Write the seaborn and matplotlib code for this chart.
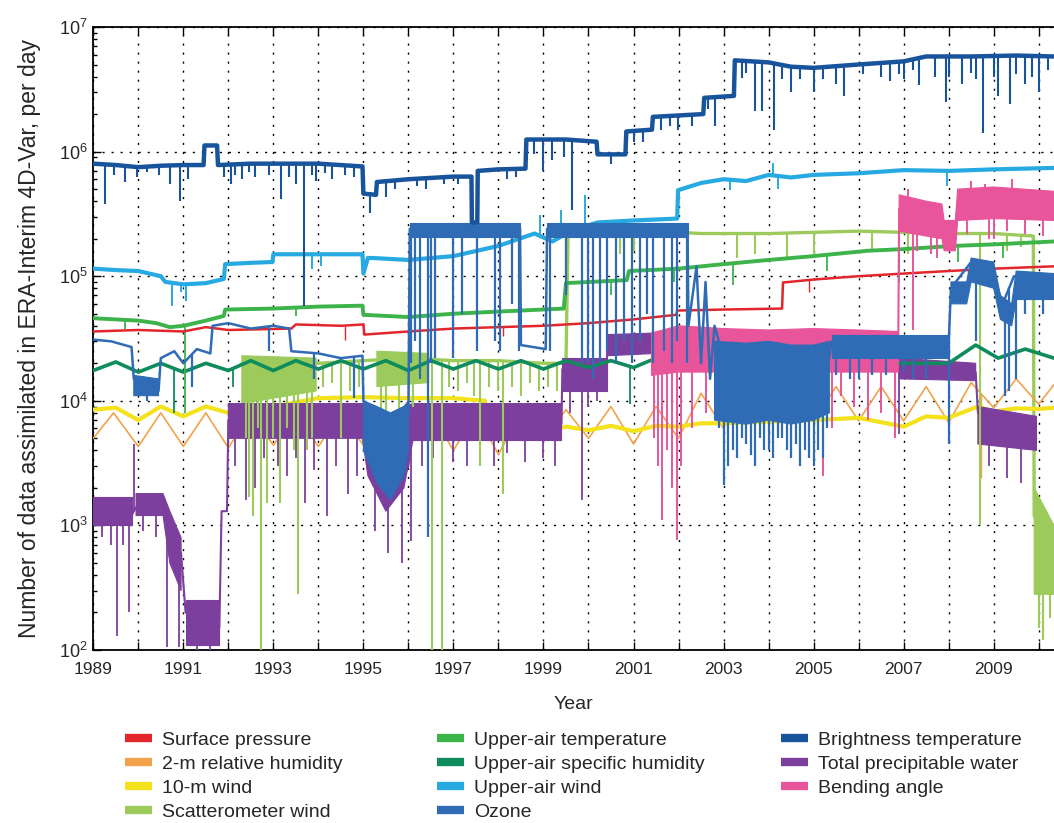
import numpy as np
import matplotlib
matplotlib.use("Agg")
import matplotlib.pyplot as plt
from matplotlib.lines import Line2D
from matplotlib.ticker import FixedLocator, LogLocator, NullFormatter, FuncFormatter
import seaborn as sns

nan = np.nan

# ---- Surface pressure ----
sp_years = [1989.0, 1990.0, 1991.0, 1991.5, 1992.0, 1993.4, 1993.5, 1994.5, 1995.0, 1995.02, 1996.0, 1997.0, 1998.0,
            1999.0, 2000.0, 2001.0, 2001.95, 2001.97, 2003.0, 2004.3, 2004.32, 2005.0, 2006.0, 2007.0, 2008.0, 2009.0, 2010.34]
sp_values = [3.6e4, 3.7e4, 3.6e4, 3.9e4, 3.7e4, 3.8e4, 4.1e4, 4.0e4, 4.1e4, 3.4e4, 3.6e4, 3.8e4, 3.9e4,
             4.0e4, 4.2e4, 4.5e4, 4.9e4, 5.3e4, 5.4e4, 5.5e4, 8.9e4, 9.4e4, 1.0e5, 1.05e5, 1.1e5, 1.15e5, 1.2e5]
sp_dip_years = [1994.6, 1998.1, 2004.9]
sp_dip_values = [3.1e4, 3.3e4, 7.5e4]

# ---- 2-m relative humidity ----
rh_years = [1989.0, 1989.45, 1990.0, 1990.5, 1991.0, 1991.5, 1992.0, 1992.5, 1993.0, 1993.5, 1994.0, 1994.5,
            1995.0, 1995.5, 1996.0, 1996.5, 1997.0, 1997.5, 1998.0, 1998.5, 1999.0, 1999.5, 2000.0, 2000.5,
            2001.0, 2001.5, 2002.0, 2002.5, 2003.0, 2003.5, 2004.0, 2004.5, 2005.0, 2005.5, 2006.0, 2006.5,
            2007.0, 2007.5, 2008.0, 2008.5, 2009.0, 2009.5, 2010.0, 2010.34]
rh_values = [5.0e3, 8.0e3, 4.3e3, 8.0e3, 4.3e3, 8.0e3, 4.2e3, 8.0e3, 4.4e3, 8.0e3, 4.3e3, 8.0e3,
             4.4e3, 8.0e3, 4.4e3, 8.0e3, 4.0e3, 8.0e3, 3.7e3, 8.3e3, 4.8e3, 8.5e3, 5.0e3, 9.0e3,
             4.5e3, 9.0e3, 5.0e3, 1.15e4, 6.0e3, 1.27e4, 7.0e3, 1.3e4, 6.9e3, 1.3e4, 6.9e3, 1.3e4,
             6.9e3, 1.3e4, 6.7e3, 1.4e4, 8.8e3, 1.5e4, 9.4e3, 1.35e4]
rh_dip_years = [2008.72]
rh_dip_values = [2.4e3]

# ---- 10-m wind ----
w10_years = [1989.0, 1989.5, 1990.0, 1990.5, 1991.0, 1991.5, 1992.0, 1993.0, 1994.0, 1995.0, 1996.0, 1997.0,
             1997.7, 1997.75, 1998.0, 1998.5, 1999.0, 1999.5, 2000.0, 2000.5, 2001.0, 2001.5, 2002.0, 2002.5,
             2003.0, 2004.0, 2005.0, 2006.0, 2007.0, 2007.5, 2008.0, 2008.65, 2009.0, 2009.5, 2010.0, 2010.34]
w10_values = [8.5e3, 8.8e3, 7.0e3, 9.0e3, 7.5e3, 9.0e3, 8.0e3, 9.0e3, 1.05e4, 1.07e4, 1.05e4, 1.05e4,
              1.0e4, 6.3e3, 6.0e3, 6.2e3, 5.6e3, 6.2e3, 5.8e3, 6.3e3, 5.7e3, 6.3e3, 6.2e3, 6.6e3,
              6.6e3, 6.8e3, 7.0e3, 7.3e3, 6.2e3, 7.5e3, 7.3e3, 9.0e3, 8.2e3, 8.7e3, 8.6e3, 8.8e3]

# ---- Scatterometer wind ----
scat_years = [1992.3, 1993.0, 1994.0, 1995.0, 1996.0, 1997.0, 1998.0, 1999.0, 1999.5, 1999.55, 2000.5, 2002.5,
              2004.0, 2006.0, 2008.0, 2009.0, 2009.88, 2009.9, 2010.1, 2010.34]
scat_values = [2.0e4, 2.1e4, 2.0e4, 2.1e4, 2.2e4, 2.1e4, 2.1e4, 2.0e4, 2.0e4, 2.6e5, 2.4e5, 2.2e5,
               2.2e5, 2.3e5, 2.2e5, 2.2e5, 2.1e5, 1.2e3, 8e2, 6e2]
scat_band_years = [1992.3, 1993.95, nan, 1995.3, 1996.45, nan, 2009.9, 2010.34]
scat_band_lo = [9.5e3, 1.2e4, nan, 1.3e4, 1.4e4, nan, 2.8e2, 2.8e2]
scat_band_hi = [2.3e4, 2.2e4, nan, 2.5e4, 2.4e4, nan, 2.0e3, 1.0e3]
scat_dip_years = [1992.4, 1992.45, 1992.55, 1992.65, 1992.73, 1992.85, 1993.0, 1993.15, 1993.3, 1993.45, 1993.55,
                  1993.75, 1993.85, 1994.1, 1994.3, 1994.5, 1994.7, 1994.9, 1995.4, 1995.5, 1995.8, 1996.1,
                  1996.52, 1996.74, 1996.9, 1997.1, 1997.3, 1997.45, 1997.6, 1997.8, 1998.0, 1998.1, 1998.3,
                  1998.5, 1998.7, 1998.9, 1999.1, 1999.3, 2000.7, 2001.0, 2003.3, 2003.7, 2004.4, 2005.0,
                  2006.3, 2007.1, 2008.7, 2009.3, 2009.6, 2010.0, 2010.1, 2010.25]
scat_dip_values = [5e3, 1.7e3, 1.2e3, 6e3, 8e1, 1.5e3, 5e3, 1.5e3, 6e3, 4e3, 2.8e2,
                   4e3, 5e3, 1.3e4, 1.4e4, 5e3, 1.2e4, 1.3e4, 8e3, 3e3, 7e3, 9e3,
                   8e1, 8e1, 1.3e4, 1.2e4, 1.4e4, 1.1e4, 3e3, 1.3e4, 1.2e4, 1.8e3, 1.3e4,
                   1.1e4, 1.4e4, 1.2e4, 1.3e4, 1.2e4, 1.5e5, 1.6e5, 1.4e5, 1.5e5, 1.4e5, 1.5e5,
                   1.6e5, 1.5e5, 1e3, 1.6e5, 1.7e5, 1.5e2, 1.2e2, 1.8e2]

# ---- Upper-air temperature ----
uat_years = [1989.0, 1989.5, 1990.0, 1990.4, 1990.7, 1991.0, 1991.5, 1991.9, 1991.93, 1993.0, 1994.0, 1994.98,
             1995.0, 1996.0, 1997.0, 1998.0, 1999.45, 1999.5, 2000.85, 2000.9, 2002.0, 2003.0, 2004.0, 2005.0,
             2006.2, 2007.0, 2008.1, 2009.0, 2010.34]
uat_values = [4.6e4, 4.5e4, 4.4e4, 4.2e4, 3.9e4, 4.0e4, 4.4e4, 4.8e4, 5.4e4, 5.5e4, 5.7e4, 5.8e4,
              4.9e4, 4.7e4, 5.0e4, 5.2e4, 5.5e4, 8.8e4, 9.3e4, 1.1e5, 1.15e5, 1.25e5, 1.35e5, 1.45e5,
              1.6e5, 1.65e5, 1.75e5, 1.8e5, 1.9e5]
uat_dip_years = [1989.7, 1991.03, 1993.5, 1996.5, 2000.5, 2001.9, 2003.2, 2005.3, 2006.9, 2008.2, 2009.2]
uat_dip_values = [3.8e4, 8e3, 4.8e4, 4.0e4, 7e4, 9e4, 8.5e4, 1.1e5, 8.8e4, 1.3e5, 1.4e5]

# ---- Upper-air specific humidity ----
uaq_years = [1989.0, 1989.5, 1990.0, 1990.5, 1991.0, 1991.5, 1992.0, 1992.5, 1993.0, 1993.5, 1994.0, 1994.5,
             1995.0, 1995.5, 1996.0, 1996.5, 1997.0, 1997.5, 1998.0, 1998.5, 1999.0, 1999.5, 2000.0, 2000.5,
             2001.0, 2001.5, 2002.0, 2002.5, 2003.0, 2004.0, 2005.0, 2006.0, 2007.0, 2008.0, 2008.6, 2009.1,
             2009.7, 2010.34]
uaq_values = [1.75e4, 2.05e4, 1.7e4, 2.0e4, 1.7e4, 2.0e4, 1.75e4, 2.1e4, 1.75e4, 2.1e4, 1.8e4, 2.1e4,
              1.8e4, 2.1e4, 1.75e4, 2.1e4, 1.8e4, 2.1e4, 1.8e4, 2.1e4, 1.8e4, 2.1e4, 1.85e4, 2.1e4,
              1.85e4, 2.2e4, 1.9e4, 2.2e4, 1.9e4, 2.0e4, 2.0e4, 2.0e4, 2.0e4, 2.0e4, 2.8e4, 2.2e4,
              2.6e4, 2.2e4]
uaq_dip_years = [1990.8, 1992.1, 2000.93]
uaq_dip_values = [8e3, 1.3e4, 9.5e3]

# ---- Upper-air wind ----
uaw_years = [1989.0, 1989.5, 1990.0, 1990.5, 1990.6, 1991.0, 1991.5, 1991.9, 1991.93, 1992.5, 1992.98, 1993.0,
             1994.0, 1994.98, 1995.0, 1995.1, 1995.2, 1996.0, 1997.0, 1998.0, 1998.8, 1999.2, 1999.6, 2000.2,
             2001.0, 2001.97, 2001.99, 2002.5, 2003.0, 2003.5, 2004.0, 2004.5, 2005.0, 2006.0, 2007.0, 2008.0,
             2009.0, 2010.34]
uaw_values = [1.15e5, 1.12e5, 1.1e5, 1.0e5, 9.0e4, 8.6e4, 8.8e4, 9.5e4, 1.25e5, 1.28e5, 1.3e5, 1.5e5,
              1.5e5, 1.5e5, 1.05e5, 1.4e5, 1.4e5, 1.35e5, 1.45e5, 1.75e5, 2.2e5, 1.9e5, 2.3e5, 2.7e5,
              2.8e5, 2.9e5, 4.9e5, 5.6e5, 6.0e5, 5.8e5, 6.5e5, 6.2e5, 6.5e5, 6.7e5, 7.1e5, 7.0e5,
              7.2e5, 7.4e5]
uaw_dip_years = [1990.74, 1990.95, 1991.07, 1993.85, 1994.05, 1998.93, 1999.4, 1999.93, 2003.15, 2004.1, 2004.2, 2007.96]
uaw_dip_values = [5.8e4, 7.5e4, 6.3e4, 1.15e5, 1.2e5, 3.1e5, 3.4e5, 4.5e5, 4.9e5, 8.1e5, 5.0e5, 5.3e5]

# ---- Ozone ----
oz_years = [1989.0, 1989.4, 1989.85, 1989.9, 1990.1, 1990.3, 1990.45, 1990.5, 1990.8, 1991.0, 1991.3, 1991.6,
            1991.65, 1992.0, 1992.5, 1993.0, 1993.35, 1993.4, 1994.0, 1994.5, 1994.98, 1995.0, 1995.2, 1995.4,
            1995.6, 1995.8, 1996.0, 1996.03, 1997.0, 1998.0, 1998.48, 1998.5, 1999.05, 1999.08, 2000.0, 2001.0,
            2002.2, 2002.22, 2002.4, 2002.5, 2002.6, 2002.7, 2002.8, 2003.0, 2003.5, 2004.0, 2004.5, 2005.0,
            2005.35, 2005.4, 2006.0, 2007.0, 2008.0, 2008.05, 2008.5, 2009.0, 2009.2, 2009.45, 2010.0, 2010.34]
oz_values = [3.1e4, 3.0e4, 2.7e4, 1.5e4, 1.3e4, 1.4e4, 1.2e4, 2.2e4, 2.5e4, 2.0e4, 2.6e4, 2.4e4,
             4.0e4, 4.2e4, 3.8e4, 4.0e4, 3.8e4, 2.5e4, 2.4e4, 2.2e4, 2.3e4, 1.0e4, 6e3, 4e3,
             3e3, 5e3, 8e3, 2.4e5, 2.5e5, 2.5e5, 2.4e5, 2.8e4, 2.6e4, 2.4e5, 2.5e5, 2.5e5,
             2.5e5, 4e4, 1.2e5, 2e4, 9e4, 1.5e4, 4e4, 2.2e4, 2.0e4, 2.2e4, 2.0e4, 2.0e4,
             2.2e4, 3.0e4, 2.8e4, 3.0e4, 2.8e4, 8e4, 1.3e5, 1.0e5, 6e4, 1.0e5, 9e4, 9.5e4]
oz_band_years = [1989.9, 1990.45, nan,
                 1995.0, 1995.3, 1995.6, 1995.9, 1996.0, nan,
                 1996.03, 1998.48, nan,
                 1999.08, 2002.2, nan,
                 2002.8, 2003.5, 2004.0, 2004.5, 2005.0, 2005.35, nan,
                 2005.4, 2008.0, nan,
                 2008.05, 2008.4, 2008.5, 2009.0, 2009.15, 2009.4, 2009.5, 2010.34]
oz_band_lo = [1.1e4, 1.1e4, nan,
              4e3, 2.2e3, 1.6e3, 2.5e3, 4e3, nan,
              2.05e5, 2.05e5, nan,
              2.05e5, 2.05e5, nan,
              7e3, 6.5e3, 7e3, 6.5e3, 7e3, 8e3, nan,
              2.2e4, 2.2e4, nan,
              6e4, 6e4, 9e4, 8e4, 4.5e4, 4e4, 6.5e4, 6.5e4]
oz_band_hi = [1.6e4, 1.5e4, nan,
              1.0e4, 9e3, 8e3, 9e3, 1.0e4, nan,
              2.65e5, 2.65e5, nan,
              2.65e5, 2.65e5, nan,
              3e4, 2.9e4, 3e4, 2.8e4, 2.8e4, 3e4, nan,
              3.4e4, 3.4e4, nan,
              9e4, 9e4, 1.4e5, 1.3e5, 7e4, 6e4, 1.1e5, 1.05e5]
oz_dip_years = [1990.2, 1991.2, 1992.9, 1993.9, 1994.8, 1996.05, 1996.15, 1996.25, 1996.43, 1996.5, 1996.6,
                1997.0, 1997.2, 1997.52, 1997.93, 1998.04, 1998.3, 1998.45, 1999.15, 1999.5, 1999.85, 2000.0,
                2000.1, 2000.26, 2000.4, 2000.6, 2000.78, 2000.97, 2001.15, 2001.3, 2001.44, 2001.67, 2001.86,
                2001.97, 2002.19, 2002.9, 2003.0, 2003.1, 2003.2, 2003.3, 2003.4, 2003.5, 2003.6, 2003.7,
                2003.8, 2003.9, 2004.0, 2004.1, 2004.2, 2004.3, 2004.4, 2004.5, 2004.6, 2004.7, 2004.8,
                2004.9, 2005.0, 2005.1, 2005.2, 2005.3, 2005.5, 2005.8, 2006.0, 2006.3, 2006.6, 2007.0,
                2007.2, 2007.5, 2008.0, 2008.6, 2009.25, 2009.35, 2009.5, 2009.7, 2010.1]
oz_dip_values = [1.0e4, 1.3e4, 2.5e4, 1.5e4, 1.05e4, 2e4, 3e4, 1.5e4, 8e2, 2e4, 2.2e4,
                 2.2e4, 5e4, 2.5e4, 3e4, 2.5e4, 6e4, 2.5e4, 2.5e4, 7e4, 2e4, 2e4,
                 1.5e4, 2e4, 2.5e4, 2e4, 3e4, 2e4, 3e4, 5e4, 2e4, 2.5e4, 2e4,
                 3e4, 2e4, 6e3, 2.1e3, 3e3, 4e3, 3.5e3, 5e3, 4.5e3, 3.7e3, 3e3,
                 5e3, 4e3, 4e3, 3.5e3, 5e3, 5e3, 4e3, 3.5e3, 4.5e3, 3e3, 4e3,
                 3.5e3, 3e3, 4e3, 3.5e3, 6e3, 1.6e4, 1.5e4, 1.5e4, 1.6e4, 1.6e4, 1.7e4,
                 1.5e4, 1.5e4, 4.5e3, 3e4, 1.1e4, 1.2e4, 1.5e4, 5e4, 5e4]

# ---- Brightness temperature ----
bt_years = [1989.0, 1989.5, 1990.0, 1990.5, 1991.0, 1991.45, 1991.47, 1991.75, 1991.77, 1992.5, 1993.0, 1994.0,
            1994.98, 1995.0, 1995.28, 1995.3, 1996.0, 1997.0, 1997.4, 1997.41, 1997.53, 1997.54, 1998.0, 1998.6,
            1998.62, 1999.5, 2000.18, 2000.2, 2000.82, 2000.84, 2001.41, 2001.43, 2002.0, 2002.55, 2002.57,
            2003.23, 2003.25, 2004.0, 2004.5, 2005.0, 2006.0, 2007.0, 2007.5, 2008.5, 2009.5, 2010.34]
bt_values = [8.0e5, 7.8e5, 7.5e5, 7.7e5, 7.8e5, 7.8e5, 1.12e6, 1.12e6, 7.8e5, 8.0e5, 8.0e5, 8.0e5,
             7.6e5, 4.6e5, 4.5e5, 5.7e5, 6.0e5, 6.3e5, 6.3e5, 2.7e5, 2.7e5, 7.0e5, 7.2e5, 7.3e5,
             1.25e6, 1.25e6, 1.2e6, 9.5e5, 9.5e5, 1.45e6, 1.5e6, 1.9e6, 1.95e6, 2.0e6, 2.7e6,
             2.8e6, 5.4e6, 5.2e6, 4.8e6, 4.7e6, 5.0e6, 5.3e6, 5.8e6, 5.8e6, 5.9e6, 5.8e6]
bt_dip_years = [1989.26, 1989.45, 1989.7, 1989.98, 1990.2, 1990.45, 1990.7, 1990.93, 1991.1, 1991.9, 1992.06,
                1992.15, 1992.3, 1992.45, 1992.6, 1992.9, 1993.18, 1993.35, 1993.5, 1993.67, 1993.85, 1993.95,
                1994.15, 1994.3, 1994.6, 1994.8, 1995.15, 1995.5, 1995.7, 1996.2, 1996.4, 1996.8, 1997.1,
                1998.2, 1998.4, 1998.8, 1999.0, 1999.2, 1999.45, 1999.63, 2000.5, 2001.0, 2001.2, 2001.6,
                2001.8, 2001.98, 2002.3, 2002.65, 2002.8, 2003.4, 2003.5, 2003.7, 2003.86, 2004.12, 2004.3,
                2004.5, 2004.7, 2005.0, 2005.2, 2005.5, 2005.67, 2006.1, 2006.5, 2006.7, 2006.9, 2007.0,
                2007.2, 2007.35, 2007.7, 2007.94, 2008.0, 2008.3, 2008.5, 2008.6, 2008.77, 2009.0, 2009.1,
                2009.37, 2009.5, 2009.7, 2009.85, 2010.0, 2010.2]
bt_dip_values = [3.8e5, 6.5e5, 5.7e5, 6.3e5, 6.8e5, 6.5e5, 5.5e5, 4.0e5, 6.0e5, 6.2e5, 5.5e5,
                 6.5e5, 6.0e5, 6.8e5, 6.3e5, 6.5e5, 4.2e5, 6.2e5, 5.5e5, 5.8e4, 6.5e5, 5.8e5,
                 6.7e5, 6.0e5, 6.5e5, 6.3e5, 3.2e5, 4.3e5, 5.0e5, 5.3e5, 5.0e5, 5.5e5, 5.5e5,
                 6.0e5, 6.2e5, 9.5e5, 7.0e5, 8.5e5, 9.0e5, 3.4e5, 8.0e5, 1.2e6, 1.2e6, 1.5e6,
                 1.6e6, 1.5e6, 1.6e6, 2.2e6, 1.6e6, 3.9e6, 4.3e6, 2.1e6, 2.1e6, 1.5e6, 3.8e6,
                 3.0e6, 3.8e6, 3.0e6, 3.8e6, 3.5e6, 2.8e6, 4.2e6, 4.0e6, 3.7e6, 4.2e6, 3.8e6,
                 4.5e6, 3.4e6, 4.0e6, 2.5e6, 4.0e6, 3.5e6, 4.3e6, 3.8e6, 1.4e6, 4.0e6, 2.8e6,
                 2.4e6, 4.2e6, 3.5e6, 4.0e6, 3.0e6, 4.5e6]

# ---- Total precipitable water ----
tpw_years = [1989.0, 1989.3, 1989.6, 1989.85, 1989.95, 1990.3, 1990.6, 1990.7, 1990.95, 1991.05, 1991.5, 1991.8,
             1991.85, 1991.97, 1992.0, 1993.0, 1994.0, 1995.0, 1995.1, 1995.5, 1995.8, 1996.0, 1996.1, 1997.0,
             1998.0, 1999.0, 1999.4, 1999.42, 2000.4, 2000.42, 2001.5, 2003.0, 2005.0, 2006.0, 2007.0, 2008.0,
             2008.6, 2008.65, 2009.0, 2009.5, 2009.95]
tpw_values = [1.4e3, 1.3e3, 1.5e3, 1.2e3, 1.4e3, 1.5e3, 1.4e3, 8e2, 6e2, 2e2, 1.8e2, 1.5e2,
              1.3e3, 1.3e3, 7e3, 7.2e3, 7e3, 7e3, 4e3, 2.5e3, 2e3, 3e3, 7e3, 7.5e3,
              7e3, 7e3, 6.5e3, 1.8e4, 1.8e4, 2.8e4, 3e4, 2.8e4, 2.6e4, 2.2e4, 1.9e4, 1.9e4,
              1.7e4, 8e3, 7e3, 6e3, 5e3]
tpw_band_years = [1989.0, 1989.85, nan,
                  1989.95, 1990.55, 1990.7, 1990.95, nan,
                  1991.05, 1991.8, nan,
                  1992.0, 1994.98, 1995.1, 1995.5, 1995.9, 1996.1, 1999.4, nan,
                  1999.42, 2000.4, nan,
                  2000.42, 2001.5, nan,
                  2006.9, 2008.6, nan,
                  2008.65, 2009.95]
tpw_band_lo = [1.0e3, 1.0e3, nan,
               1.2e3, 1.2e3, 5e2, 3e2, nan,
               1.1e2, 1.1e2, nan,
               5e3, 5e3, 2.5e3, 1.3e3, 2e3, 4.8e3, 4.8e3, nan,
               1.2e4, 1.2e4, nan,
               2.3e4, 2.4e4, nan,
               1.5e4, 1.45e4, nan,
               4.5e3, 4e3]
tpw_band_hi = [1.7e3, 1.7e3, nan,
               1.8e3, 1.8e3, 1.3e3, 8e2, nan,
               2.5e2, 2.5e2, nan,
               9.5e3, 9.5e3, 8.5e3, 7.5e3, 9e3, 9.5e3, 9.5e3, nan,
               2.2e4, 2.2e4, nan,
               3.4e4, 3.5e4, nan,
               2.2e4, 2.0e4, nan,
               9e3, 7.5e3]
tpw_dip_years = [1989.2, 1989.4, 1989.52, 1989.65, 1989.8, 1989.9, 1990.1, 1990.4, 1990.63, 1990.9, 1991.3, 1991.6,
                 1992.15, 1992.4, 1992.6, 1992.8, 1993.1, 1993.3, 1993.5, 1993.7, 1993.9, 1994.2, 1994.4, 1994.65,
                 1994.85, 1995.25, 1995.55, 1995.85, 1996.05, 1996.3, 1996.55, 1996.75, 1997.0, 1997.3, 1997.6,
                 1997.9, 1998.2, 1998.6, 1999.0, 1999.25, 1999.6, 1999.85, 2000.0, 2000.2, 2006.9, 2008.9,
                 2009.3, 2009.6]
tpw_dip_values = [8e2, 7e2, 1.3e2, 7e2, 2e2, 4.5e3, 9e2, 8e2, 1.05e2, 1.05e2, 1e2, 1e2,
                  3e3, 1.6e3, 2e3, 3.5e3, 3e3, 2.5e3, 3.5e3, 1.5e3, 2.8e3, 1.2e3, 3e3, 1.8e3,
                  2.5e3, 9e2, 6e2, 5e2, 7.5e2, 3e3, 3.5e3, 2.2e3, 3.2e3, 3e3, 3.5e3,
                  3e3, 3.8e3, 3.2e3, 3.5e3, 3e3, 8e3, 1.6e3, 9e3, 1e4, 5.4e3, 3e3,
                  2.4e3, 2.2e3]

# ---- Bending angle ----
ba_years = [2001.4, 2001.6, 2001.8, 2002.0, 2002.5, 2003.0, 2003.5, 2004.0, 2004.5, 2005.0, 2005.5, 2006.0,
            2006.5, 2006.88, 2006.9, 2007.2, 2007.5, 2007.9, 2008.1, 2008.2, 2008.6, 2009.0, 2009.5, 2010.0, 2010.34]
ba_values = [2.5e4, 3.0e4, 2.8e4, 3.5e4, 3.2e4, 3.0e4, 3.2e4, 2.8e4, 3.0e4, 3.2e4, 2.8e4, 3.0e4,
             3.0e4, 2.6e4, 3.5e5, 3.0e5, 2.8e5, 2.2e5, 1.8e5, 3.8e5, 4.0e5, 3.8e5, 4.0e5, 3.8e5, 3.9e5]
ba_band_years = [2001.4, 2002.0, 2003.0, 2004.0, 2005.0, 2006.0, 2006.88, nan,
                 2006.9, 2007.5, 2007.85, 2007.9, 2008.15, 2008.2, 2009.0, 2010.34]
ba_band_lo = [1.6e4, 1.7e4, 1.7e4, 1.6e4, 1.7e4, 1.7e4, 1.7e4, nan,
              2.3e5, 2.1e5, 2.0e5, 1.6e5, 1.6e5, 2.8e5, 2.9e5, 2.8e5]
ba_band_hi = [3.5e4, 4.0e4, 3.8e4, 3.7e4, 3.8e4, 3.7e4, 3.6e4, nan,
              4.5e5, 4.0e5, 3.8e5, 2.8e5, 2.8e5, 5.0e5, 5.2e5, 4.8e5]
ba_dip_years = [2001.45, 2001.55, 2001.63, 2001.75, 2001.85, 2001.96, 2002.05, 2002.3, 2002.6, 2002.9, 2003.2,
                2003.5, 2003.7, 2003.9, 2004.1, 2004.3, 2004.5, 2004.7, 2004.9, 2005.2, 2005.4, 2005.6,
                2005.9, 2006.2, 2006.5, 2006.8, 2007.1, 2007.2, 2007.3, 2007.6, 2007.75, 2008.4, 2008.5,
                2008.8, 2008.9, 2009.0, 2009.3, 2009.4, 2009.7, 2010.1]
ba_dip_values = [5e3, 3e3, 1.1e3, 4e3, 2e3, 7.7e2, 3e3, 6e3, 8e3, 9e3, 7e3,
                 5e3, 8e3, 6e3, 9e3, 5e3, 6e3, 7e3, 8e3, 2.5e3, 6e3, 1.1e4,
                 9e3, 7e3, 8e3, 5e3, 5e5, 3.7e4, 1.6e5, 1.5e5, 1.4e5, 2.2e5, 5.8e5,
                 5.5e5, 2.0e5, 2.0e5, 2.3e5, 6.0e5, 2.2e5, 2.1e5]

year_ticks = list(range(1989, 2011))

colors = {
    "Surface pressure": "#e3262b",
    "2-m relative humidity": "#f2a24a",
    "10-m wind": "#f4e31c",
    "Scatterometer wind": "#9ccb5b",
    "Upper-air temperature": "#3cb44a",
    "Upper-air specific humidity": "#0f8c5c",
    "Upper-air wind": "#27aae1",
    "Ozone": "#2f6cb5",
    "Brightness temperature": "#18549c",
    "Total precipitable water": "#7c3f9d",
    "Bending angle": "#e8559b",
}


def draw_line(ax, years, values, color, lw, z):
    sns.lineplot(x=years, y=values, estimator=None, sort=False, color=color,
                 linewidth=lw, ax=ax, zorder=z, legend=False)


def draw_dips(ax, years, values, dip_years, dip_values, color, lw, z):
    # dips hang from the series level down (or up) to the read value
    tops = 10 ** np.interp(dip_years, years, np.log10(values))
    ax.vlines(dip_years, dip_values, tops, colors=color, linewidth=lw, zorder=z)


def draw_band(ax, years, lo, hi, color, z):
    ax.fill_between(np.array(years, dtype=float), np.array(lo, dtype=float), np.array(hi, dtype=float),
                    color=color, linewidth=0.8, edgecolor=color, zorder=z)


sns.set_theme(style="white")
plt.rcParams["font.family"] = ["Liberation Sans", "DejaVu Sans"]
plt.rcParams["mathtext.fontset"] = "custom"
plt.rcParams["mathtext.rm"] = "Liberation Sans"
plt.rcParams["mathtext.it"] = "Liberation Sans:italic"

fig = plt.figure(figsize=(10.54, 8.23), dpi=100)
ax = fig.add_axes([0.0885, 0.2102, 0.9115, 0.757])
ax.set_yscale("log")

c = colors
# scatterometer
draw_band(ax, scat_band_years, scat_band_lo, scat_band_hi, c["Scatterometer wind"], 2)
draw_line(ax, scat_years, scat_values, c["Scatterometer wind"], 2.4, 2.1)
# near-surface humidity and wind
draw_line(ax, rh_years, rh_values, c["2-m relative humidity"], 1.2, 3)
draw_dips(ax, rh_years, rh_values, rh_dip_years, rh_dip_values, c["2-m relative humidity"], 1.0, 3)
draw_line(ax, w10_years, w10_values, c["10-m wind"], 3.0, 3.5)
# total precipitable water
draw_band(ax, tpw_band_years, tpw_band_lo, tpw_band_hi, c["Total precipitable water"], 4)
draw_line(ax, tpw_years, tpw_values, c["Total precipitable water"], 1.5, 4.1)
draw_dips(ax, tpw_years, tpw_values, tpw_dip_years, tpw_dip_values, c["Total precipitable water"], 1.3, 4.1)
draw_dips(ax, scat_years, scat_values, scat_dip_years, scat_dip_values, c["Scatterometer wind"], 1.5, 4.2)
# upper-air
draw_line(ax, uaq_years, uaq_values, c["Upper-air specific humidity"], 2.6, 5)
draw_dips(ax, uaq_years, uaq_values, uaq_dip_years, uaq_dip_values, c["Upper-air specific humidity"], 1.3, 5)
draw_line(ax, uat_years, uat_values, c["Upper-air temperature"], 2.8, 5.5)
draw_dips(ax, uat_years, uat_values, uat_dip_years, uat_dip_values, c["Upper-air temperature"], 1.3, 5.5)
draw_line(ax, sp_years, sp_values, c["Surface pressure"], 1.8, 6)
draw_dips(ax, sp_years, sp_values, sp_dip_years, sp_dip_values, c["Surface pressure"], 1.0, 6)
draw_line(ax, uaw_years, uaw_values, c["Upper-air wind"], 3.0, 6.5)
draw_dips(ax, uaw_years, uaw_values, uaw_dip_years, uaw_dip_values, c["Upper-air wind"], 1.4, 6.5)
# bending angle
draw_band(ax, ba_band_years, ba_band_lo, ba_band_hi, c["Bending angle"], 7)
draw_line(ax, ba_years, ba_values, c["Bending angle"], 1.5, 7.1)
draw_dips(ax, ba_years, ba_values, ba_dip_years, ba_dip_values, c["Bending angle"], 1.4, 7.1)
# ozone
draw_band(ax, oz_band_years, oz_band_lo, oz_band_hi, c["Ozone"], 7.5)
draw_line(ax, oz_years, oz_values, c["Ozone"], 1.8, 7.6)
draw_dips(ax, oz_years, oz_values, oz_dip_years, oz_dip_values, c["Ozone"], 1.6, 7.6)
# brightness temperature
draw_line(ax, bt_years, bt_values, c["Brightness temperature"], 3.2, 8)
draw_dips(ax, bt_years, bt_values, bt_dip_years, bt_dip_values, c["Brightness temperature"], 1.5, 8)

ax.set_xlim(1989, 2010.34)
ax.set_ylim(1e2, 1e7)

ax.xaxis.set_major_locator(FixedLocator(year_ticks))
ax.xaxis.set_major_formatter(FuncFormatter(lambda v, p: str(int(round(v))) if int(round(v)) % 2 == 1 else ""))
ax.yaxis.set_major_locator(LogLocator(base=10, numticks=10))
ax.yaxis.set_minor_locator(LogLocator(base=10, subs=np.arange(2, 10), numticks=20))
ax.yaxis.set_minor_formatter(NullFormatter())
ax.tick_params(axis="x", which="major", direction="in", top=True, bottom=True, length=6, width=1,
               labelsize=12.5, pad=8.5, color="black")
ax.tick_params(axis="y", which="major", direction="in", left=True, right=False, length=6, width=1,
               labelsize=13, pad=4, color="black")
ax.tick_params(axis="y", which="minor", direction="in", left=True, right=False, length=3, width=1, color="black")
ax.grid(True, which="major", color="black", linestyle=(0, (1.5, 5)), linewidth=1.0)
ax.set_axisbelow(True)

for side in ["top", "left", "bottom"]:
    ax.spines[side].set_color("black")
    ax.spines[side].set_linewidth(1.3)
ax.spines["right"].set_visible(False)

ax.set_xlabel("Year", fontsize=14, labelpad=14)
ax.set_ylabel("Number of data assimilated in ERA-Interim 4D-Var, per day", fontsize=16.5, labelpad=13)

# legend in three columns placed below the axes
names = list(colors.keys())
columns = [names[0:4], names[4:8], names[8:11]]
col_x = [0.1186, 0.4146, 0.741]
for col, x0 in zip(columns, col_x):
    handles = [Line2D([0], [0], color=colors[n], lw=6, solid_capstyle="butt") for n in col]
    fig.legend(handles, col, loc="upper left", bbox_to_anchor=(x0, 0.1118), frameon=False,
               fontsize=14, handlelength=1.4, handletextpad=0.5, labelspacing=0.34,
               borderpad=0, borderaxespad=0)

fig.savefig("out.png", dpi=100)
